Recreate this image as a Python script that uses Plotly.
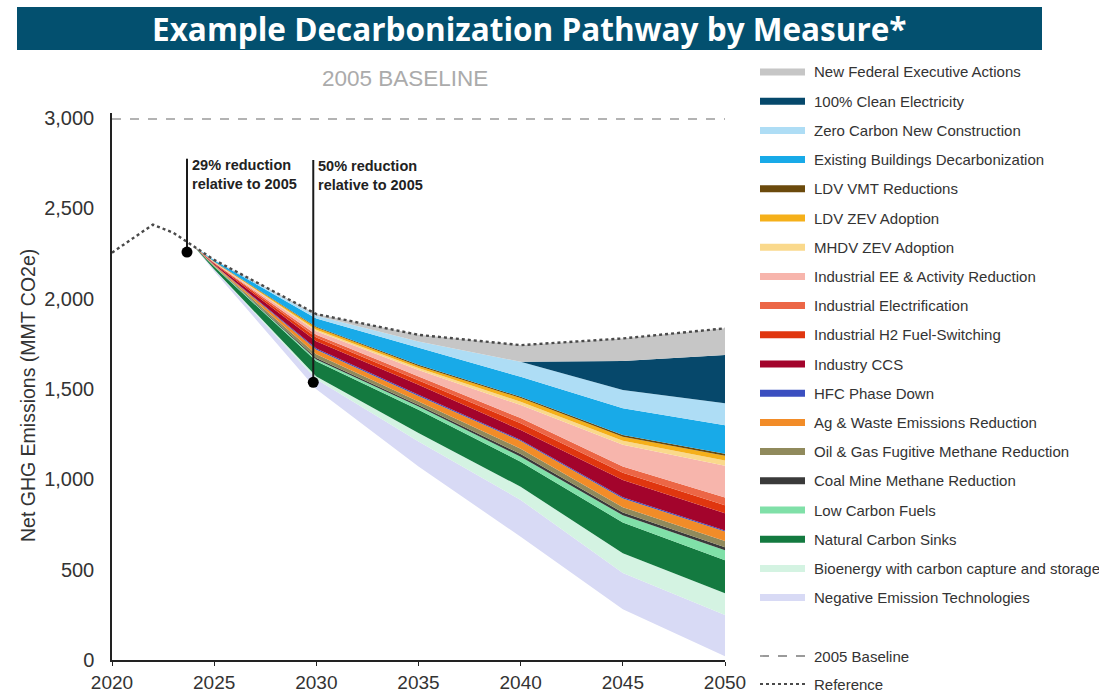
import plotly.graph_objects as go

# ---------------- data ----------------
ref_years = [2020, 2021, 2022, 2023, 2024, 2025, 2030, 2035, 2040, 2045, 2050]
ref_values = [2255, 2335, 2410, 2365, 2290, 2215, 1915, 1800, 1743, 1780, 1836]

baseline_2005 = 2995

stack_years = [2024, 2025, 2030, 2035, 2040, 2045, 2050]

# measures listed top (legend order) -> bottom
measure_names = [
    "New Federal Executive Actions",
    "100% Clean Electricity",
    "Zero Carbon New Construction",
    "Existing Buildings Decarbonization",
    "LDV VMT Reductions",
    "LDV ZEV Adoption",
    "MHDV ZEV Adoption",
    "Industrial EE & Activity Reduction",
    "Industrial Electrification",
    "Industrial H2 Fuel-Switching",
    "Industry CCS",
    "HFC Phase Down",
    "Ag & Waste Emissions Reduction",
    "Oil & Gas Fugitive Methane Reduction",
    "Coal Mine Methane Reduction",
    "Low Carbon Fuels",
    "Natural Carbon Sinks",
    "Bioenergy with carbon capture and storage",
    "Negative Emission Technologies",
]
measure_colors = [
    "#C6C6C6", "#06486B", "#AEDDF5", "#18AAE8", "#6B4A0C", "#F5B01A",
    "#FAD98C", "#F7B5AC", "#EC6646", "#E0360F", "#A3042C", "#3B4FC0",
    "#F28C28", "#908A5C", "#3A3A3A", "#80E0A8", "#147A40", "#D4F3E2",
    "#D8DAF5",
]
# reductions (MMT CO2e) at stack_years
new_federal = [0, 0, 10, 37, 92, 125, 148]
clean_elec = [0, 0, 0, 0, 0, 160, 267]
zero_carbon_nc = [0, 2, 15, 35, 83, 101, 121]
existing_bldg = [0, 7, 45, 94, 111, 148, 158]
ldv_vmt = [0, 1, 5, 6, 7, 10, 12]
ldv_zev = [0, 2, 12, 12, 20, 23, 25]
mhdv_zev = [0, 1, 8, 10, 19, 22, 30]
ind_ee = [0, 3, 20, 37, 72, 120, 175]
ind_elec = [0, 2, 15, 23, 29, 35, 43]
ind_h2 = [0, 3, 20, 23, 37, 40, 45]
ind_ccs = [0, 6, 40, 55, 55, 95, 95]
hfc = [0, 1, 8, 7, 6, 7, 6]
ag_waste = [0, 4, 25, 30, 42, 48, 52]
oil_gas = [0, 3, 20, 20, 30, 30, 35]
coal_mine = [0, 1, 8, 8, 15, 15, 17]
low_carbon_fuels = [0, 2, 10, 18, 27, 40, 55]
natural_sinks = [0, 14, 85, 129, 139, 170, 183]
beccs = [0, 2, 15, 47, 73, 110, 120]
net_tech = [0, 9, 55, 138, 204, 200, 228]

measure_values = [
    new_federal, clean_elec, zero_carbon_nc, existing_bldg, ldv_vmt, ldv_zev,
    mhdv_zev, ind_ee, ind_elec, ind_h2, ind_ccs, hfc, ag_waste, oil_gas,
    coal_mine, low_carbon_fuels, natural_sinks, beccs, net_tech,
]

milestone_years = [2023.67, 2029.85]
milestone_values = [2258, 1537]
milestone_tops = [2775, 2768]
milestone_labels = ["29% reduction<br>relative to 2005", "50% reduction<br>relative to 2005"]

# ---------------- figure ----------------
W, H = 1099, 694
L, R, T, B = 112, 725, 113, 660
YMAX = 3028


def px(xp):
    return (xp - L) / (R - L)


def py(yp):
    return (B - yp) / (B - T)


ref_lookup = dict(zip(ref_years, ref_values))
pathway = [
    ref_lookup[yr] - sum(vals[i] for vals in measure_values)
    for i, yr in enumerate(stack_years)
]

fig = go.Figure()

# invisible base of the stack: the pathway
fig.add_trace(go.Scatter(
    x=stack_years, y=pathway, stackgroup="wedges", mode="lines",
    line=dict(width=0), fillcolor="rgba(0,0,0,0)", showlegend=False,
    hoverinfo="skip",
))
# bands stacked from bottom (last measure) to top (first measure)
for name, color, vals in reversed(list(zip(measure_names, measure_colors, measure_values))):
    fig.add_trace(go.Scatter(
        x=stack_years, y=vals, stackgroup="wedges", mode="lines", name=name,
        line=dict(width=0, color=color), fillcolor=color, showlegend=False,
    ))

# 2005 baseline
fig.add_trace(go.Scatter(
    x=[ref_years[0], ref_years[-1]], y=[baseline_2005, baseline_2005],
    mode="lines", line=dict(color="#9A9A9A", width=1.6, dash="dash"),
    showlegend=False, name="2005 Baseline",
))
# reference
fig.add_trace(go.Scatter(
    x=ref_years, y=ref_values, mode="lines",
    line=dict(color="#4A4A4A", width=2.4, dash="dot"),
    showlegend=False, name="Reference",
))
# milestones
for yr, val, top in zip(milestone_years, milestone_values, milestone_tops):
    fig.add_trace(go.Scatter(
        x=[yr, yr], y=[val, top], mode="lines",
        line=dict(color="#1A1A1A", width=2), showlegend=False, hoverinfo="skip",
    ))
fig.add_trace(go.Scatter(
    x=milestone_years, y=milestone_values, mode="markers",
    marker=dict(color="black", size=11), showlegend=False,
))

annotations = []
shapes = []
for yr, top, lab in zip(milestone_years, milestone_tops, milestone_labels):
    annotations.append(dict(
        x=yr, y=top, xref="x", yref="y", text="<b>" + lab + "</b>",
        showarrow=False, xanchor="left", yanchor="top", align="left",
        xshift=3, yshift=4, font=dict(size=14.5, color="#222222"),
    ))

# title banner
shapes.append(dict(
    type="rect", xref="paper", yref="paper", x0=px(17), x1=px(1042),
    y0=py(50), y1=py(7), fillcolor="#03506F", line=dict(width=0), layer="above",
))
annotations.append(dict(
    x=px(529.5), y=py(28.5), xref="paper", yref="paper",
    text="<b>Example Decarbonization Pathway by Measure*</b>", showarrow=False,
    xanchor="center", yanchor="middle",
    font=dict(size=31.5, color="white", family="Open Sans"),
))
annotations.append(dict(
    x=px(405), y=py(78), xref="paper", yref="paper", text="2005 BASELINE",
    showarrow=False, xanchor="center", yanchor="middle",
    font=dict(size=22.5, color="#ABABAB"),
))
annotations.append(dict(
    x=px(28), y=py(396), xref="paper", yref="paper",
    text="Net GHG Emissions (MMT CO2e)", showarrow=False, textangle=-90,
    xanchor="center", yanchor="middle", font=dict(size=19.5, color="#333333"),
))

# legend (manual)
row0, step = 72, 29.2
for i, (name, color) in enumerate(zip(measure_names, measure_colors)):
    yy = row0 + i * step
    shapes.append(dict(
        type="line", xref="paper", yref="paper", x0=px(760), x1=px(805),
        y0=py(yy), y1=py(yy), line=dict(color=color, width=7),
    ))
    annotations.append(dict(
        x=px(812), y=py(yy), xref="paper", yref="paper", text=name,
        showarrow=False, xanchor="left", yanchor="middle",
        font=dict(size=15, color="#333333"),
    ))
for yy, name, dash, color in [(656, "2005 Baseline", "dash", "#9A9A9A"),
                              (684, "Reference", "dot", "#4A4A4A")]:
    shapes.append(dict(
        type="line", xref="paper", yref="paper", x0=px(760), x1=px(805),
        y0=py(yy), y1=py(yy), line=dict(color=color, width=1.8, dash=dash),
    ))
    annotations.append(dict(
        x=px(812), y=py(yy), xref="paper", yref="paper", text=name,
        showarrow=False, xanchor="left", yanchor="middle",
        font=dict(size=15, color="#333333"),
    ))

fig.update_layout(
    width=W, height=H,
    margin=dict(l=L, r=W - R, t=T, b=H - B, pad=0, autoexpand=False),
    paper_bgcolor="white", plot_bgcolor="white",
    font=dict(family="Liberation Sans, Arial, sans-serif", color="#333333"),
    showlegend=False,
    shapes=shapes, annotations=annotations,
    xaxis=dict(
        range=[2020, 2050], tickvals=list(range(2020, 2051, 5)),
        showgrid=False, zeroline=False, showline=True, linecolor="#222222",
        linewidth=1.5, ticks="outside", ticklen=4, tickcolor="#222222",
        tickfont=dict(size=19, color="#333333"), automargin=False,
    ),
    yaxis=dict(
        range=[0, YMAX], tickvals=list(range(0, 3001, 500)), tickformat=",",
        showgrid=False, zeroline=False, showline=True, linecolor="#222222",
        linewidth=1.5, ticks="", tickfont=dict(size=20, color="#333333"),
        ticklabelstandoff=12, automargin=False,
    ),
)

fig.write_html(
    "out.html",
    config={"displayModeBar": False},
    post_script="document.body.style.margin='0px';document.body.style.overflow='hidden';",
)
